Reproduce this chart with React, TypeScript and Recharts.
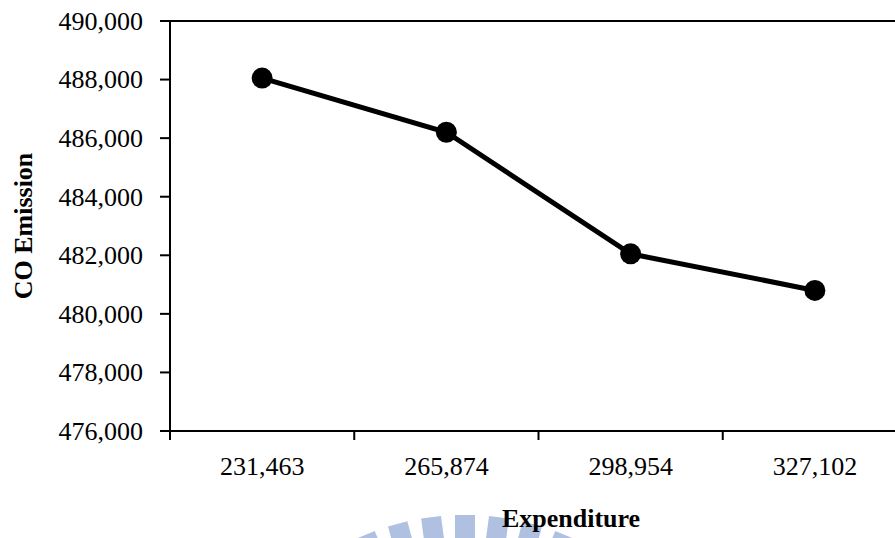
import React from 'react';
import { LineChart, Line, XAxis, YAxis, ReferenceLine, Customized } from 'recharts';

// Expenditure categories (x) and CO emission values (y)
const expenditureLabels = ['231,463', '265,874', '298,954', '327,102'];
const coEmission = [488050, 486200, 482050, 480800];
const yTicks = [476000, 478000, 480000, 482000, 484000, 486000, 488000, 490000];

// Each category occupies one unit; points sit at the middle of their slot
const data = expenditureLabels.map((label, i) => ({ pos: i + 0.5, label, co: coEmission[i] }));
const xTicks = [0, 0.5, 1, 1.5, 2, 2.5, 3, 3.5, 4];

const FONT = '"Liberation Serif", "Times New Roman", Times, serif';

// Slot boundaries get a tick mark, slot centres get the category label
function XTick(props: any) {
  const { x, y, payload } = props;
  const v = payload.value as number;
  if (Number.isInteger(v)) {
    return <line x1={x} x2={x} y1={y} y2={y + 9} stroke="#000" strokeWidth={2} />;
  }
  return (
    <text x={x} y={y + 44} textAnchor="middle" fontSize={26} fontFamily={FONT} fill="#000">
      {expenditureLabels[Math.floor(v)]}
    </text>
  );
}

function YTick(props: any) {
  const { x, y, payload } = props;
  return (
    <text x={x} y={y} dy="0.34em" textAnchor="end" fontSize={26} fontFamily={FONT} fill="#000">
      {Number(payload.value).toLocaleString('en-US')}
    </text>
  );
}

// Faint radial emblem printed behind the bottom of the page
function Emblem() {
  const cx = 465;
  const cy = 775;
  const r = 260;
  const bars = [-4, -3, -2, -1, 0, 1, 2, 3, 4];
  return (
    <g>
      {bars.map((k) => (
        <rect
          key={k}
          x={cx - 10}
          y={cy - r}
          width={20}
          height={50}
          fill="#b0c0e0"
          transform={`rotate(${k * 7.5} ${cx} ${cy})`}
        />
      ))}
    </g>
  );
}

export default function App() {
  return (
    <div style={{ position: 'absolute', left: 0, top: 0, width: 895, height: 538, overflow: 'hidden', background: '#fff' }}>
      <LineChart
        width={920}
        height={538}
        data={data}
        margin={{ top: 21, right: 13, bottom: 0, left: 0 }}
      >
        <Customized component={Emblem} />
        <ReferenceLine y={490000} stroke="#000" strokeWidth={2} ifOverflow="extendDomain" />
        <XAxis
          dataKey="pos"
          type="number"
          domain={[0, 4]}
          ticks={xTicks}
          interval={0}
          tickSize={0}
          tickMargin={0}
          tickLine={false}
          tick={<XTick />}
          axisLine={{ stroke: '#000', strokeWidth: 2 }}
          height={107}
          label={(p: any) => {
            const vb = p.viewBox;
            return (
              <text x={571} y={vb.y + 96} textAnchor="middle" fontSize={26} fontWeight="bold" fontFamily={FONT} fill="#000">
                Expenditure
              </text>
            );
          }}
        />
        <YAxis
          type="number"
          domain={[476000, 490000]}
          ticks={yTicks}
          interval={0}
          width={170}
          tickSize={10}
          tickMargin={17}
          tickLine={{ stroke: '#000', strokeWidth: 2 }}
          tick={<YTick />}
          axisLine={{ stroke: '#000', strokeWidth: 2 }}
          label={(p: any) => {
            const vb = p.viewBox;
            const cy = vb.y + vb.height / 2;
            return (
              <text
                x={32}
                y={cy}
                transform={`rotate(-90 32 ${cy})`}
                textAnchor="middle"
                fontSize={26}
                fontWeight="bold"
                fontFamily={FONT}
                fill="#000"
              >
                CO Emission
              </text>
            );
          }}
        />
        <Line
          type="linear"
          dataKey="co"
          stroke="#000"
          strokeWidth={5}
          dot={{ r: 10.5, fill: '#000', stroke: '#000', strokeWidth: 0 }}
          activeDot={false}
          isAnimationActive={false}
        />
      </LineChart>
    </div>
  );
}
